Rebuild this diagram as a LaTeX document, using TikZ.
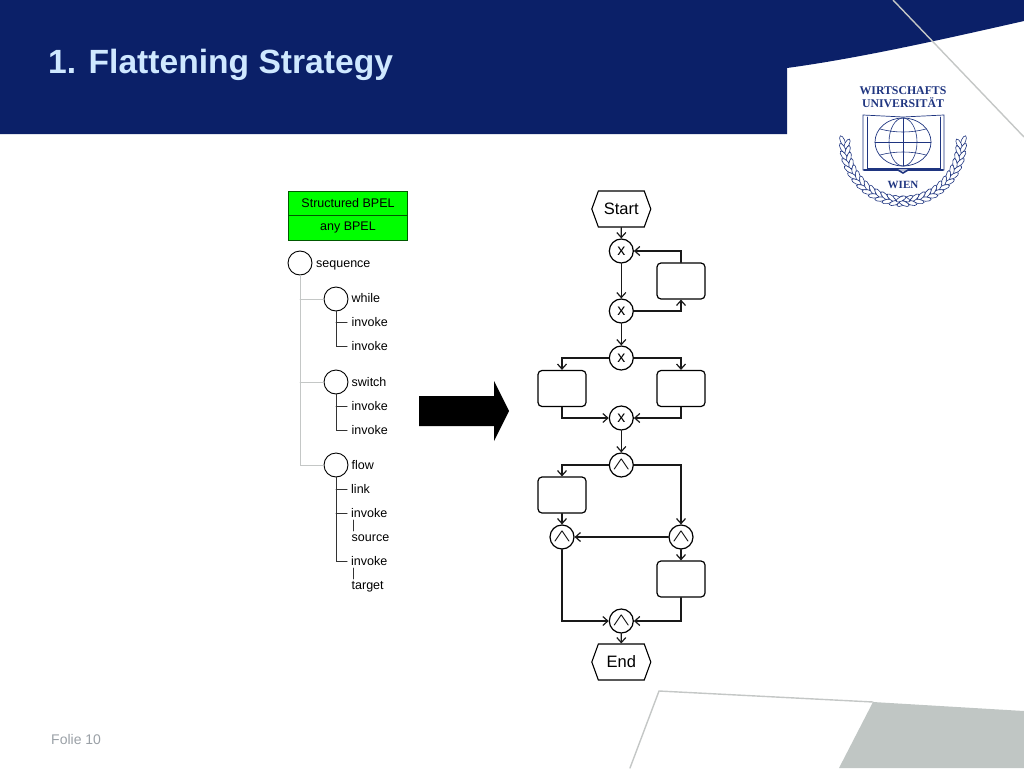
\documentclass[tikz,border=0pt]{standalone}
\usepackage{fontspec}
\setmainfont{Liberation Sans}
\newfontfamily\logofont{Liberation Serif}
\usetikzlibrary{arrows.meta,shapes.symbols}
\definecolor{navy}{HTML}{0B2068}
\definecolor{logoblue}{HTML}{1F3580}
\definecolor{titleblue}{HTML}{CFE8FF}
\definecolor{linegray}{HTML}{C4C7C6}
\definecolor{footgray}{HTML}{C0C6C4}
\definecolor{foliegray}{HTML}{9AA0A6}
\newcommand{\andsign}{\scalebox{1.3}[0.85]{\fontsize{20}{20}\selectfont$\wedge$}}
\tikzset{
  gateway/.style={circle, draw, fill=white, minimum size=24pt, inner sep=0pt, line width=1.2pt, font=\fontsize{16}{16}\selectfont},
  taskbox/.style={rectangle, rounded corners=4pt, draw, fill=white, minimum width=48pt, minimum height=36pt, line width=1.2pt},
  terminal/.style={signal, signal to=west and east, signal pointer angle=140, draw, fill=white, minimum width=59pt, minimum height=36pt, inner sep=0pt, line width=1.1pt, font=\fontsize{16.5}{18}\selectfont},
  treecircle/.style={circle, draw, fill=white, minimum size=24pt, inner sep=0pt, line width=0.9pt},
  treelabel/.style={anchor=base west, inner sep=0pt, font=\fontsize{12.5}{14}\selectfont},
  bpelbox/.style={rectangle, draw=green!35!black, fill=green, minimum width=119.5pt, minimum height=24.5pt, inner sep=0pt, line width=0.9pt, font=\fontsize{12.5}{14}\selectfont},
  leaf/.style={draw=logoblue, fill=white, line width=0.6pt}
}
\begin{document}
\begin{tikzpicture}[x=1pt, y=-1pt, line cap=round, >={Straight Barb[length=5pt,width=9pt]}]
\useasboundingbox (0,0) rectangle (1024,768);

% --- banner ---
\fill[navy] (0,0) -- (1024,0) -- (1024,21) .. controls (940,40) and (860,58) .. (787,68) -- (787,134) -- (0,134) -- cycle;
\draw[linegray, line width=1.4pt] (893,0) -- (1024,137);
\node[anchor=base west, inner sep=0pt, text=titleblue, font=\fontsize{33.6}{40}\selectfont\bfseries] (title) at (48,74) {1. Flattening Strategy};

% --- logo ---
% wreath
\foreach \a in {-2,5,...,90} {
  \fill[leaf] ({903-60.5*cos(\a)},{143+60.5*sin(\a)}) ellipse [x radius=5.5, y radius=2.2, rotate=\a-65];
  \fill[leaf] ({903-56*cos(\a+3)},{143+56*sin(\a+3)}) ellipse [x radius=5.5, y radius=2.2, rotate=\a-115];
  \fill[leaf] ({903+60.5*cos(\a)},{143+60.5*sin(\a)}) ellipse [x radius=5.5, y radius=2.2, rotate=65-\a];
  \fill[leaf] ({903+56*cos(\a+3)},{143+56*sin(\a+3)}) ellipse [x radius=5.5, y radius=2.2, rotate=115-\a];
}
\node[inner sep=0pt, text=logoblue, font=\fontsize{11.8}{13}\logofont\bfseries] (logotop) at (903,91) {WIRTSCHAFTS};
\node[inner sep=0pt, text=logoblue, font=\fontsize{11.8}{13}\logofont\bfseries] (logomid) at (903,103) {UNIVERSITÄT};
\draw[logoblue, line width=0.7pt, fill=white] (863,115) -- (903,117) -- (944,115) -- (944,170) -- (863,170) -- cycle;
\draw[logoblue, line width=0.6pt] (867,117) -- (867,168) -- (940,168) -- (940,117);
\draw[logoblue, line width=1.6pt] (864,170) -- (898,170) -- (903,173) -- (908,170) -- (943,170);
\draw[logoblue, line width=0.7pt, fill=white] (903,142) ellipse (28 and 24);
\draw[logoblue, line width=0.6pt] (903,142) ellipse (14 and 24);
\draw[logoblue, line width=0.6pt] (903,118) -- (903,166) (875,142) -- (931,142);
\draw[logoblue, line width=0.6pt] (880,129) .. controls (895,133) and (911,133) .. (926,129);
\draw[logoblue, line width=0.6pt] (880,155) .. controls (895,151) and (911,151) .. (926,155);
\node[fill=white, inner sep=1pt, text=logoblue, font=\fontsize{11}{13}\logofont\bfseries] (logocity) at (903,185) {WIEN};

% --- structure tree ---
\node[bpelbox] (structured) at (348,203.3) {Structured BPEL};
\node[bpelbox] (anybpel) at (348,227.7) {\raisebox{-0.8pt}{any BPEL}};

\node[treecircle] (sequence) at (300,263) {};
\node[treecircle] (while) at (336,299) {};
\node[treecircle] (switch) at (336,382) {};
\node[treecircle] (flow) at (336,465) {};

\node[treelabel] (lsequence) at (316,267) {sequence};
\node[treelabel] (lwhile) at (351.5,302.5) {while};
\node[treelabel] (lwhileone) at (351.5,326.5) {invoke};
\node[treelabel] (lwhiletwo) at (351.5,350.5) {invoke};
\node[treelabel] (lswitch) at (351.5,386) {switch};
\node[treelabel] (lswitchone) at (351.5,410) {invoke};
\node[treelabel] (lswitchtwo) at (351.5,434) {invoke};
\node[treelabel] (lflow) at (351.5,469) {flow};
\node[treelabel] (llink) at (351,493) {link};
\node[treelabel] (lflowone) at (351,517) {invoke};
\node[treelabel] (lsource) at (351.5,541) {source};
\node[treelabel] (lflowtwo) at (351,565) {invoke};
\node[treelabel] (ltarget) at (351.5,589) {target};

% stub ends beside the labels
\coordinate (swhileone) at ([xshift=-4.5pt,yshift=4.5pt]lwhileone.base west);
\coordinate (swhiletwo) at ([xshift=-4.5pt,yshift=4.5pt]lwhiletwo.base west);
\coordinate (sswitchone) at ([xshift=-4.5pt,yshift=4pt]lswitchone.base west);
\coordinate (sswitchtwo) at ([xshift=-4.5pt,yshift=4pt]lswitchtwo.base west);
\coordinate (slink) at ([xshift=-4pt,yshift=4pt]llink.base west);
\coordinate (sflowone) at ([xshift=-4pt,yshift=4pt]lflowone.base west);
\coordinate (sflowtwo) at ([xshift=-4pt,yshift=4pt]lflowtwo.base west);

% grey branches
\draw[linegray, line width=1pt] (sequence.south) |- (flow.west);
\draw[linegray, line width=1pt] (sequence.south |- while) -- (while.west);
\draw[linegray, line width=1pt] (sequence.south |- switch) -- (switch.west);
% black stems
\draw[black!80, line width=1pt] (while.south) |- (swhiletwo);
\draw[black!80, line width=1pt] (while.south |- swhileone) -- (swhileone);
\draw[black!80, line width=1pt] (switch.south) |- (sswitchtwo);
\draw[black!80, line width=1pt] (switch.south |- sswitchone) -- (sswitchone);
\draw[black!80, line width=1pt] (flow.south) |- (sflowtwo);
\draw[black!80, line width=1pt] (flow.south |- slink) -- (slink);
\draw[black!80, line width=1pt] (flow.south |- sflowone) -- (sflowone);
\draw[black!80, line width=0.8pt] ([xshift=2.5pt,yshift=-3pt]lflowone.base west) -- ([xshift=2pt,yshift=10pt]lsource.base west);
\draw[black!80, line width=0.8pt] ([xshift=2.5pt,yshift=-3pt]lflowtwo.base west) -- ([xshift=2pt,yshift=10pt]ltarget.base west);

% --- big arrow ---
\fill[black] (419,396) -- (494,396) -- (494,381) -- (509,411) -- (494,441) -- (494,426) -- (419,426) -- cycle;

% --- process ---
\node[terminal] (start) at (621.3,209) {Start};
\node[gateway] (xone) at (621.3,251) {x};
\node[gateway] (xtwo) at (621.3,311) {x};
\node[gateway] (xthree) at (621.3,358) {x};
\node[gateway] (xfour) at (621.3,418) {x};
\node[taskbox] (loop) at (681,281) {};
\node[taskbox] (left) at (562,388.5) {};
\node[taskbox] (right) at (681,388.5) {};
\node[gateway] (andone) at (621.3,465) {\andsign};
\node[gateway] (andtwo) at (562,537) {\andsign};
\node[gateway] (andthree) at (681,537) {\andsign};
\node[gateway] (andfour) at (621.3,621) {\andsign};
\node[taskbox] (taskone) at (562,495) {};
\node[taskbox] (tasktwo) at (681,579) {};
\node[terminal] (end) at (621.3,662) {End};

\begin{scope}[line width=1.2pt, black!90]
\draw[->] (start) -- (xone);
\draw[->] (xone) -- (xtwo);
\draw[->] (xtwo.east) -| (loop.south);
\draw[->] (loop.north) |- (xone.east);
\draw[->] (xtwo) -- (xthree);
\draw[->] (xthree.west) -| (left.north);
\draw[->] (xthree.east) -| (right.north);
\draw[->] (left.south) |- (xfour.west);
\draw[->] (right.south) |- (xfour.east);
\draw[->] (xfour) -- (andone);
\draw[->] (andone.west) -| (taskone.north);
\draw[->] (andone.east) -| (andthree.north);
\draw[->] (taskone) -- (andtwo);
\draw[->] (andthree) -- (andtwo);
\draw[->] (andthree) -- (tasktwo);
\draw[->] (andtwo.south) |- (andfour.west);
\draw[->] (tasktwo.south) |- (andfour.east);
\draw[->] (andfour) -- (end);
\end{scope}

% --- footer ---
\fill[footgray] (873,702) -- (1024,711) -- (1024,768) -- (839,768) -- cycle;
\draw[linegray, line width=1.4pt] (630,768) -- (659,691) -- (873,702);
\node[anchor=west, inner sep=0pt, text=foliegray, font=\fontsize{14}{16}\selectfont] (folie) at (51,739.5) {Folie 10};

\end{tikzpicture}
\end{document}
